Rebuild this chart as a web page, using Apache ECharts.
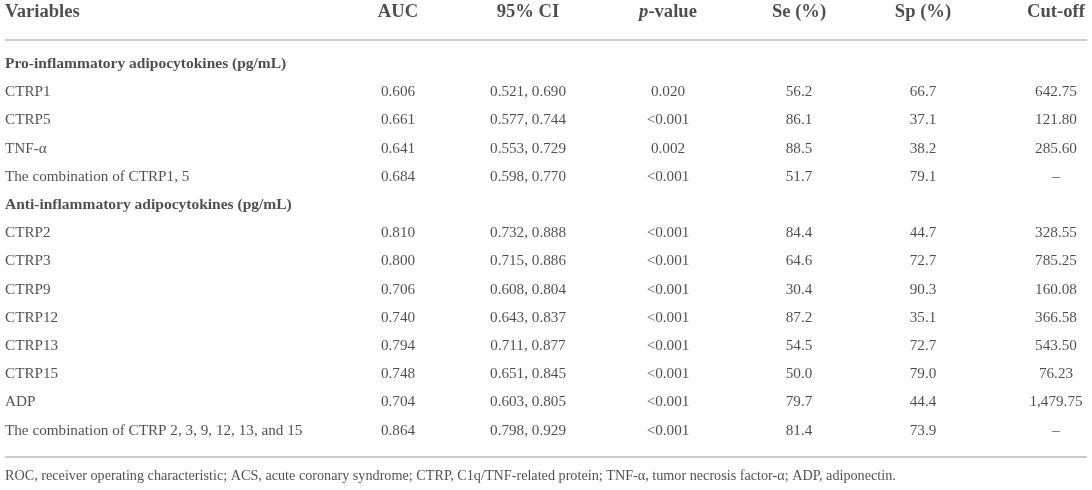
<!DOCTYPE html>
<html>
<head>
<meta charset="utf-8">
<script src="https://cdn.jsdelivr.net/npm/echarts@6/dist/echarts.min.js"></script>
<style>
html,body{margin:0;padding:0;background:#fff;}
#main{width:1092px;height:490px;}
</style>
</head>
<body>
<div id="main"></div>
<script>
// ---- data ----
const headers = ['Variables', 'AUC', '95% CI', 'p-value', 'Se (%)', 'Sp (%)', 'Cut-off'];
const variables = [
  'Pro-inflammatory adipocytokines (pg/mL)',
  'CTRP1', 'CTRP5', 'TNF-α', 'The combination of CTRP1, 5',
  'Anti-inflammatory adipocytokines (pg/mL)',
  'CTRP2', 'CTRP3', 'CTRP9', 'CTRP12', 'CTRP13', 'CTRP15', 'ADP',
  'The combination of CTRP 2, 3, 9, 12, 13, and 15'
];
const sectionRows = [0, 5];
const auc = [null, 0.606, 0.661, 0.641, 0.684, null, 0.810, 0.800, 0.706, 0.740, 0.794, 0.748, 0.704, 0.864];
const ciLow = [null, 0.521, 0.577, 0.553, 0.598, null, 0.732, 0.715, 0.608, 0.643, 0.711, 0.651, 0.603, 0.798];
const ciHigh = [null, 0.690, 0.744, 0.729, 0.770, null, 0.888, 0.886, 0.804, 0.837, 0.877, 0.845, 0.805, 0.929];
const pValue = [null, '0.020', '<0.001', '0.002', '<0.001', null, '<0.001', '<0.001', '<0.001', '<0.001', '<0.001', '<0.001', '<0.001', '<0.001'];
const se = [null, 56.2, 86.1, 88.5, 51.7, null, 84.4, 64.6, 30.4, 87.2, 54.5, 50.0, 79.7, 81.4];
const sp = [null, 66.7, 37.1, 38.2, 79.1, null, 44.7, 72.7, 90.3, 35.1, 72.7, 79.0, 44.4, 73.9];
const cutoff = [null, 642.75, 121.80, 285.60, null, null, 328.55, 785.25, 160.08, 366.58, 543.50, 76.23, 1479.75, null];
const footnote = 'ROC, receiver operating characteristic; ACS, acute coronary syndrome; CTRP, C1q/TNF-related protein; TNF-α, tumor necrosis factor-α; ADP, adiponectin.';

// ---- layout (not data) ----
const colX = [5, 398, 528, 668, 799, 923, 1056];
const headerRow = -1.826;
const topRuleRow = -0.851;
const bottomRuleRow = 13.94;
const footRow = 14.61;
const ruleX = [5, 1087];
const FONT = '"Liberation Serif", "DejaVu Serif", serif';
const INK = '#231f20';
const BODY = 15.2;
const SECTION = 15.5;
const HEAD = 18.6;
const FOOT = 14.2;

const fmt = {
  auc: v => v == null ? '' : v.toFixed(3),
  ci: (i) => ciLow[i] == null ? '' : ciLow[i].toFixed(3) + ', ' + ciHigh[i].toFixed(3),
  p: v => v == null ? '' : v,
  pct: v => v == null ? '' : v.toFixed(1),
  cut: (v, i) => {
    if (sectionRows.includes(i)) return '';
    if (v == null) return '–';
    return v.toLocaleString('en-US', {minimumFractionDigits: 2, maximumFractionDigits: 2});
  }
};

const rows = variables.map((_, i) => i);
function colSeries(col, texts) {
  return {
    type: 'scatter',
    symbolSize: 1,
    clip: false,
    silent: true,
    itemStyle: {color: 'rgba(0,0,0,0)'},
    data: rows.map(i => ({value: [colX[col], i], txt: texts[i]})),
    label: {
      show: true,
      position: 'inside',
      align: 'center',
      verticalAlign: 'middle',
      fontFamily: FONT,
      fontSize: BODY,
      color: INK,
      formatter: p => p.data.txt
    }
  };
}

const varSeries = colSeries(0, variables);
varSeries.data = rows.map(i => ({
  value: [colX[0], i], txt: variables[i],
  label: sectionRows.includes(i) ? {fontWeight: 'bold', fontSize: SECTION} : {}
}));
varSeries.label.align = 'left';

const headerSeries = {
  type: 'scatter', symbolSize: 1, clip: false, silent: true,
  itemStyle: {color: 'rgba(0,0,0,0)'},
  data: headers.map((h, c) => ({
    value: [colX[c], headerRow], txt: h,
    label: {align: c === 0 ? 'left' : 'center'}
  })),
  label: {
    show: true, position: 'inside', verticalAlign: 'middle',
    fontFamily: FONT, fontSize: HEAD, fontWeight: 'bold', color: INK,
    formatter: p => p.data.txt === 'p-value' ? '{i|p}-value' : p.data.txt,
    rich: {i: {fontStyle: 'italic', fontWeight: 'bold', fontFamily: FONT, fontSize: HEAD, color: INK}}
  },
  markLine: {
    silent: true, symbol: 'none', animation: false,
    label: {show: false},
    lineStyle: {color: '#cccccc', width: 2, type: 'solid'},
    data: [
      [{coord: [ruleX[0], topRuleRow]}, {coord: [ruleX[1], topRuleRow]}],
      [{coord: [ruleX[0], bottomRuleRow]}, {coord: [ruleX[1], bottomRuleRow]}]
    ]
  }
};

const footSeries = {
  type: 'scatter', symbolSize: 1, clip: false, silent: true,
  itemStyle: {color: 'rgba(0,0,0,0)'},
  data: [{value: [colX[0], footRow], txt: footnote}],
  label: {
    show: true, position: 'inside', align: 'left', verticalAlign: 'middle',
    fontFamily: FONT, fontSize: FOOT, color: INK,
    formatter: p => p.data.txt
  }
};

const chart = echarts.init(document.getElementById('main'), null, {renderer: 'canvas'});
chart.setOption({
  animation: false,
  backgroundColor: '#fff',
  grid: {left: 0, right: 0, top: 12.5, bottom: 14},
  xAxis: {type: 'value', min: 0, max: 1092, show: false},
  yAxis: {type: 'value', min: headerRow, max: footRow, inverse: true, show: false},
  series: [
    headerSeries,
    varSeries,
    colSeries(1, auc.map(fmt.auc)),
    colSeries(2, rows.map(fmt.ci)),
    colSeries(3, pValue.map(fmt.p)),
    colSeries(4, se.map(fmt.pct)),
    colSeries(5, sp.map(fmt.pct)),
    colSeries(6, cutoff.map(fmt.cut)),
    footSeries
  ]
});
</script>
</body>
</html>
